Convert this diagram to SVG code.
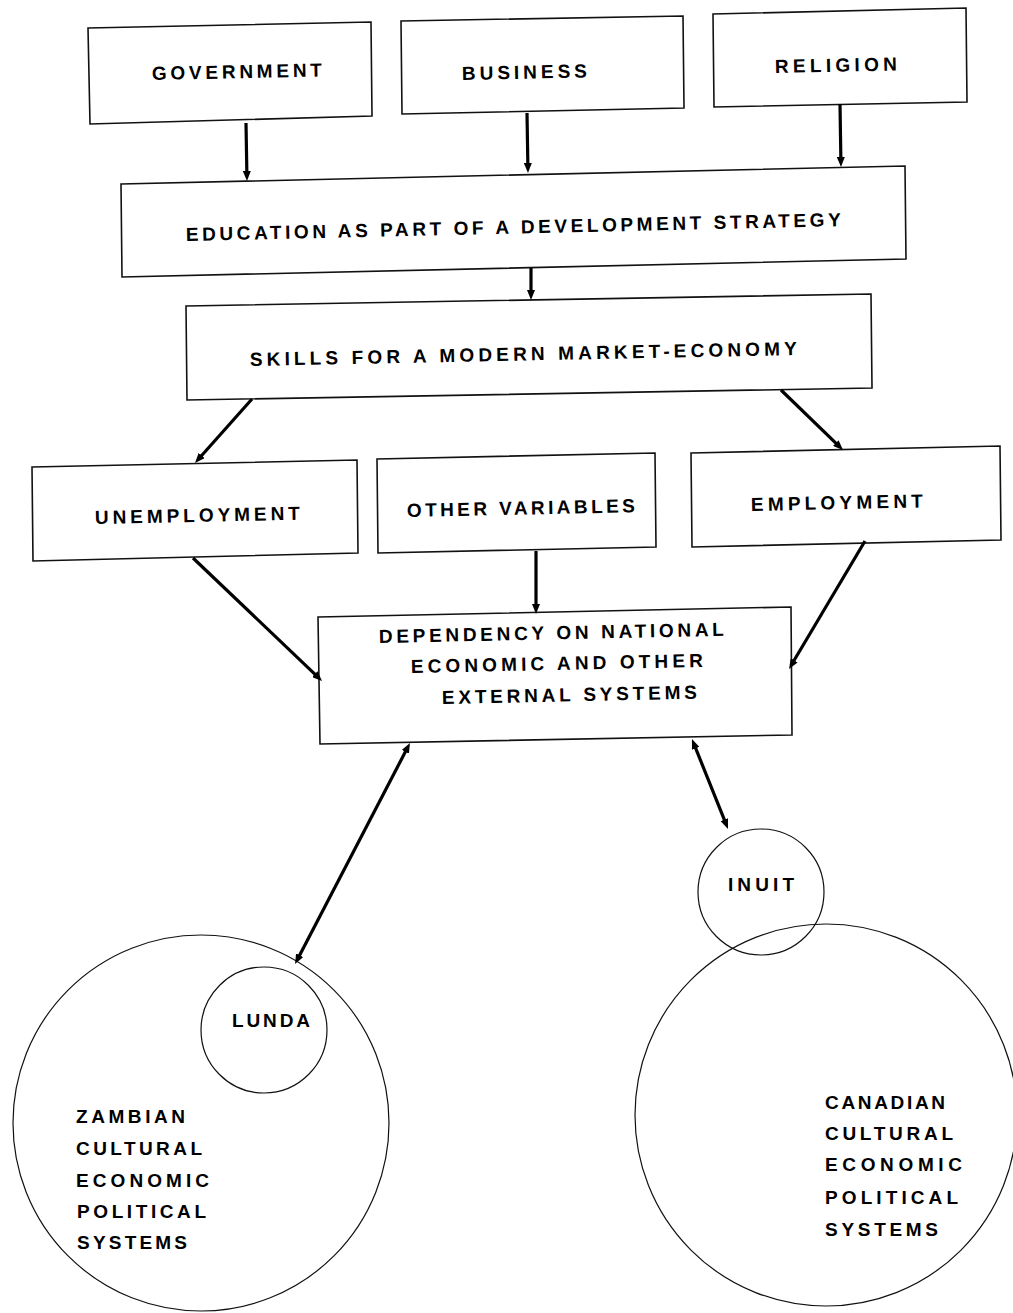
<svg xmlns="http://www.w3.org/2000/svg" width="1013" height="1313" viewBox="0 0 1013 1313">
<style>
.box{fill:none;stroke:#111;stroke-width:1.6;stroke-linejoin:miter}
.circ{fill:none;stroke:#111;stroke-width:1.2}
.t{font-family:"Liberation Sans Narrow","Liberation Sans",Arial,sans-serif;font-weight:bold;font-size:19px;fill:#000}
.arr{fill:none;stroke:#000;stroke-width:3.2}
</style>
<defs>
<marker id="ah" viewBox="0 0 10 8" refX="4" refY="4" markerWidth="10" markerHeight="8" markerUnits="userSpaceOnUse" orient="auto-start-reverse">
<path d="M0,0 L10,4 L0,8 z" fill="#000"/>
</marker>
</defs>
<rect width="1013" height="1313" fill="#fff"/>

<g id="government">
<polygon class="box" points="88,28 371,22 372,116 90,124"/>
<text class="t" x="152" y="80" textLength="170" lengthAdjust="spacing" transform="rotate(-1.2 152 80)">GOVERNMENT</text>
</g>
<g id="business">
<polygon class="box" points="401,21 683,16 684,108 402,114"/>
<text class="t" x="462" y="80" textLength="125" lengthAdjust="spacing" transform="rotate(-1.2 462 80)">BUSINESS</text>
</g>
<g id="religion">
<polygon class="box" points="713,14 966,8 967,102 714,107"/>
<text class="t" x="775" y="73" textLength="122" lengthAdjust="spacing" transform="rotate(-1.2 775 73)">RELIGION</text>
</g>
<g id="education">
<polygon class="box" points="121,184 905,166 906,259 122,277"/>
<text class="t" x="186" y="241" textLength="655" lengthAdjust="spacing" transform="rotate(-1.3 186 241)">EDUCATION AS PART OF A DEVELOPMENT STRATEGY</text>
</g>
<g id="skills">
<polygon class="box" points="186,306 871,294 872,388 187,400"/>
<text class="t" x="250" y="366" textLength="547" lengthAdjust="spacing" transform="rotate(-1.15 250 366)">SKILLS FOR A MODERN MARKET-ECONOMY</text>
</g>
<g id="unemployment">
<polygon class="box" points="32,467 357,460 358,553 33,561"/>
<text class="t" x="95" y="524" textLength="205" lengthAdjust="spacing" transform="rotate(-1.2 95 524)">UNEMPLOYMENT</text>
</g>
<g id="other-variables">
<polygon class="box" points="377,459 655,453 656,547 378,553"/>
<text class="t" x="407" y="517" textLength="228" lengthAdjust="spacing" transform="rotate(-1.2 407 517)">OTHER VARIABLES</text>
</g>
<g id="employment">
<polygon class="box" points="691,453 1000,446 1001,540 692,547"/>
<text class="t" x="751" y="511" textLength="172" lengthAdjust="spacing" transform="rotate(-1.2 751 511)">EMPLOYMENT</text>
</g>
<g id="dependency">
<polygon class="box" points="318,617 791,607 792,735 320,744"/>
<text class="t" x="379" y="643" textLength="345" lengthAdjust="spacing" transform="rotate(-1.2 379 643)">DEPENDENCY ON NATIONAL</text>
<text class="t" x="411" y="673" textLength="292" lengthAdjust="spacing" transform="rotate(-1.2 411 673)">ECONOMIC AND OTHER</text>
<text class="t" x="442" y="704" textLength="255" lengthAdjust="spacing" transform="rotate(-1.2 442 704)">EXTERNAL SYSTEMS</text>
</g>
<g id="zambian">
<circle class="circ" cx="201" cy="1123" r="188"/>
<text class="t" x="76" y="1123" textLength="109" lengthAdjust="spacing">ZAMBIAN</text>
<text class="t" x="76" y="1155" textLength="126" lengthAdjust="spacing">CULTURAL</text>
<text class="t" x="76" y="1187" textLength="133" lengthAdjust="spacing">ECONOMIC</text>
<text class="t" x="77" y="1218" textLength="129" lengthAdjust="spacing">POLITICAL</text>
<text class="t" x="77" y="1249" textLength="110" lengthAdjust="spacing">SYSTEMS</text>
</g>
<g id="lunda">
<circle class="circ" cx="264" cy="1030" r="63"/>
<text class="t" x="232" y="1027" textLength="78" lengthAdjust="spacing">LUNDA</text>
</g>
<g id="canadian">
<circle class="circ" cx="826" cy="1115" r="191"/>
<text class="t" x="825" y="1109" textLength="120" lengthAdjust="spacing">CANADIAN</text>
<text class="t" x="825" y="1140" textLength="128" lengthAdjust="spacing">CULTURAL</text>
<text class="t" x="825" y="1171" textLength="137" lengthAdjust="spacing">ECONOMIC</text>
<text class="t" x="825" y="1204" textLength="133" lengthAdjust="spacing">POLITICAL</text>
<text class="t" x="825" y="1236" textLength="113" lengthAdjust="spacing">SYSTEMS</text>
</g>
<g id="inuit">
<circle class="circ" cx="761" cy="892" r="63"/>
<text class="t" x="728" y="891" textLength="66" lengthAdjust="spacing">INUIT</text>
</g>

<g id="connectors">
<line class="arr" x1="246" y1="123" x2="246.9" y2="175" marker-end="url(#ah)"/>
<line class="arr" x1="527" y1="113" x2="527.9" y2="167" marker-end="url(#ah)"/>
<line class="arr" x1="840" y1="104" x2="840.9" y2="161" marker-end="url(#ah)"/>
<line class="arr" x1="531" y1="268" x2="531" y2="294" marker-end="url(#ah)"/>
<line class="arr" x1="252" y1="399" x2="199" y2="458.5" marker-end="url(#ah)"/>
<line class="arr" x1="781" y1="390" x2="838.7" y2="445.8" marker-end="url(#ah)"/>
<line class="arr" x1="193" y1="558" x2="317.7" y2="676.9" marker-end="url(#ah)"/>
<line class="arr" x1="536" y1="551" x2="536" y2="608" marker-end="url(#ah)"/>
<line class="arr" x1="865" y1="541" x2="792.1" y2="663.8" marker-end="url(#ah)"/>
<line class="arr" x1="407.2" y1="748.3" x2="297.8" y2="958.7" marker-start="url(#ah)" marker-end="url(#ah)"/>
<line class="arr" x1="694.2" y1="744.6" x2="725.8" y2="823.4" marker-start="url(#ah)" marker-end="url(#ah)"/>
</g>
</svg>
